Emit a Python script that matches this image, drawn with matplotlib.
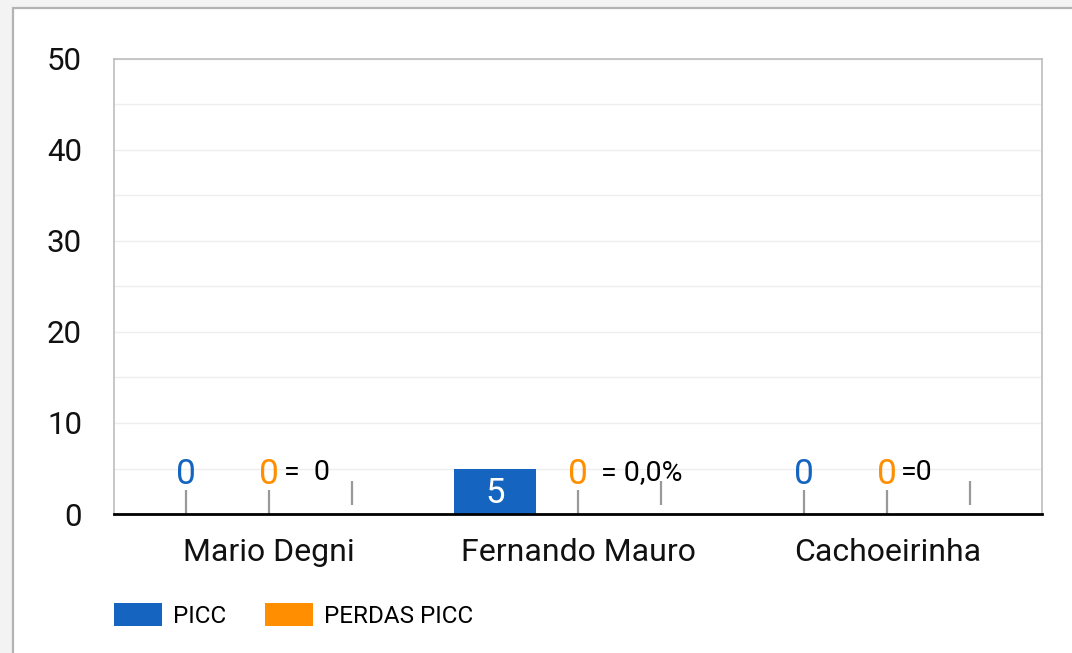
import matplotlib.pyplot as plt
from matplotlib.patches import Rectangle
import numpy as np

plt.rcParams['font.family'] = ['Roboto', 'DejaVu Sans']

# dados
unidades = ["Mario Degni", "Fernando Mauro", "Cachoeirinha"]
picc = [0, 5, 0]
perdas_picc = [0, 0, 0]
# serie invisivel que so carrega o texto da taxa
taxa_base = [1, 1, 1]
taxa_txt = ["=  0", "= 0,0%", "=0"]

cor_picc = "#1565C0"
cor_perdas = "#FF8F00"

W, H = 1072, 653
fig = plt.figure(figsize=(W / 100, H / 100), dpi=100)
fig.patch.set_facecolor("#f3f3f3")

# moldura branca
fig.patches.append(Rectangle((13 / W, -0.01), 1, 1 - 8 / H + 0.01, transform=fig.transFigure,
                             facecolor="white", edgecolor="#b3b3b3", lw=1.6, figure=fig, zorder=-5))

ax = fig.add_axes([114 / W, (H - 514) / H, 928 / W, 455 / H])
ax.set_facecolor("white")

x = np.arange(len(unidades))
off = 0.2686
bw = 0.265
b1 = ax.bar(x - off, picc, bw, color=cor_picc, label="PICC", zorder=3)
b2 = ax.bar(x, perdas_picc, bw, color=cor_perdas, label="PERDAS PICC", zorder=3)
ax.bar(x + off, taxa_base, bw, color="none", zorder=3)

ax.set_ylim(0, 50)
ax.set_xlim(-0.5, 2.5)
ax.set_yticks(range(0, 51, 10))
ax.set_yticks(range(5, 50, 10), minor=True)
ax.grid(axis="y", which="both", color="#eeeeee", lw=1, zorder=0)
ax.tick_params(axis="both", which="both", length=0)
ax.tick_params(axis="y", labelsize=22.5, pad=23, colors="#111111")
ax.set_xticks(x)
ax.set_xticklabels(unidades, fontsize=23, color="#111111")
ax.tick_params(axis="x", pad=17)

for s in ["left", "top", "right"]:
    ax.spines[s].set_color("#bdbdbd")
    ax.spines[s].set_linewidth(1.2)
ax.spines["bottom"].set_color("black")
ax.spines["bottom"].set_linewidth(2)
ax.spines["bottom"].set_zorder(5)

px_unit = 455 / 50
haste = 24 / px_unit

def rotular(xs, vals, cor):
    for xi, v in zip(xs, vals):
        if v > 0:
            ax.annotate(str(v), (xi, 0), xytext=(0, 8), textcoords="offset points",
                        ha="center", va="baseline", color="white", fontsize=25, zorder=6)
        else:
            ax.vlines(xi, v, v + haste, color="#999999", lw=1.6, zorder=4)
            ax.annotate(str(v), (xi, v), xytext=(0, 21.6), textcoords="offset points",
                        ha="center", va="baseline", color=cor, fontsize=25.5, zorder=6)

rotular(x - off, picc, cor_picc)
rotular(x, perdas_picc, cor_perdas)

dx_txt = [-45, -19, -54]
for xi, v, t, d in zip(x + off, taxa_base, taxa_txt, dx_txt):
    ax.vlines(xi, v, v + haste, color="#999999", lw=1.6, zorder=4)
    ax.annotate(t, (xi, v), xytext=(d * 0.72, 17.6), textcoords="offset points",
                ha="center", va="baseline", color="black", fontsize=20.5, zorder=6)

ax.legend(handles=[b1, b2], loc="lower left", bbox_to_anchor=(114 / W, (H - 628) / H),
          bbox_transform=fig.transFigure, ncol=2, frameon=False, fontsize=17.5,
          handlelength=1.98, handleheight=1.05, handletextpad=0.45, columnspacing=1.6,
          borderpad=0, borderaxespad=0)

fig.savefig("out.png", dpi=100, facecolor=fig.get_facecolor())
